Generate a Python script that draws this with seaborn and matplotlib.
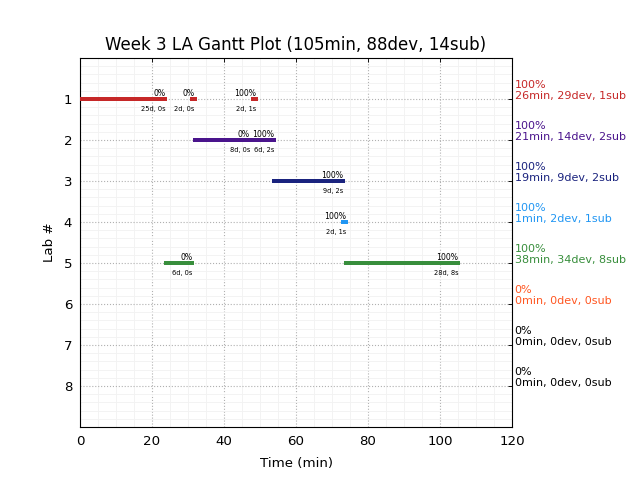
import matplotlib
matplotlib.use("Agg")
import matplotlib.pyplot as plt
import matplotlib.transforms as mtransforms
from matplotlib.ticker import MultipleLocator
import seaborn as sns
import pandas as pd

# ---- data ----
title = "Week 3 LA Gantt Plot (105min, 88dev, 14sub)"
labs = [1, 2, 3, 4, 5, 6, 7, 8]
lab_colors = ["#c62828", "#4a148c", "#1a237e", "#2196f3", "#388e3c", "#ff5722", "#000000", "#000000"]
lab_pct = ["100%", "100%", "100%", "100%", "100%", "0%", "0%", "0%"]
lab_stats = ["26min, 29dev, 1sub", "21min, 14dev, 2sub", "19min, 9dev, 2sub",
             "1min, 2dev, 1sub", "38min, 34dev, 8sub", "0min, 0dev, 0sub",
             "0min, 0dev, 0sub", "0min, 0dev, 0sub"]

seg_lab = [1, 1, 1, 2, 2, 3, 4, 5, 5]
seg_start = [0.0, 30.6, 47.5, 31.5, 47.7, 53.2, 72.5, 23.3, 73.3]
seg_end = [24.3, 32.4, 49.4, 47.7, 54.4, 73.6, 74.4, 31.7, 105.6]
seg_pct = ["0%", "0%", "100%", "0%", "100%", "100%", "100%", "0%", "100%"]
seg_info = ["25d, 0s", "2d, 0s", "2d, 1s", "8d, 0s", "6d, 2s", "9d, 2s", "2d, 1s", "6d, 0s", "28d, 8s"]

df = pd.DataFrame({"lab": seg_lab, "start": seg_start, "end": seg_end,
                   "pct": seg_pct, "info": seg_info})
df["dur"] = df["end"] - df["start"]

sns.set_theme(style="white")
plt.rcParams["font.family"] = ["DejaVu Sans"]

fig = plt.figure(figsize=(8, 6), dpi=80)
ax = fig.add_axes([0.125, 0.1104, 0.675, 0.7688])

for _, r in df.iterrows():
    c = lab_colors[int(r["lab"]) - 1]
    ax.barh(r["lab"], r["dur"], left=r["start"], height=0.1, color=c, linewidth=0, zorder=3)
    ax.text(r["end"] - 0.5, r["lab"] - 0.08, r["pct"], ha="right", va="baseline", fontsize=7, color="black", zorder=4)
    ax.text(r["end"] - 0.5, r["lab"] + 0.3, r["info"], ha="right", va="baseline", fontsize=6, color="black", zorder=4)

trans = mtransforms.blended_transform_factory(ax.transAxes, ax.transData)
for lab, c, p, s in zip(labs, lab_colors, lab_pct, lab_stats):
    ax.text(1.006, lab + 0.05, p + "\n" + s, transform=trans, ha="left", va="bottom",
            fontsize=10, color=c, linespacing=1.15)

ax.set_xlim(0, 120)
ax.set_ylim(9, 0)
ax.set_xticks([0, 20, 40, 60, 80, 100, 120])
ax.set_yticks(labs)
ax.xaxis.set_minor_locator(MultipleLocator(5))
ax.yaxis.set_minor_locator(MultipleLocator(0.2))
ax.grid(which="major", color="#b0b0b0", linestyle=":", linewidth=1.0, zorder=1)
ax.grid(which="minor", color="#f2f2f2", linestyle="-", linewidth=0.8, zorder=0)
ax.set_axisbelow(True)

for sp in ax.spines.values():
    sp.set_color("black")
    sp.set_linewidth(1.0)
    sp.set_visible(True)

ax.tick_params(which="major", direction="in", length=4, width=0.8, top=True, right=True,
               labelsize=12, colors="black", pad=7)
ax.tick_params(which="minor", length=0)
ax.set_xlabel("Time (min)", fontsize=12, color="black", labelpad=8)
ax.set_ylabel("Lab #", fontsize=12, color="black", labelpad=7)
ax.set_title(title, fontsize=15, color="black", pad=7)

fig.savefig("out.png", dpi=80, facecolor="white")
